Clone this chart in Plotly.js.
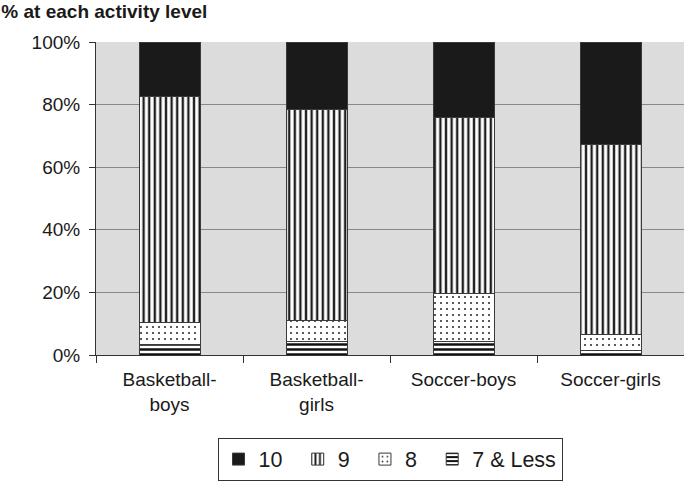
<!DOCTYPE html>
<html>
<head>
<meta charset="utf-8">
<script src="https://cdn.plot.ly/plotly-3.0.1.min.js"></script>
<style>html,body{margin:0;padding:0;background:#fff;}#chart{width:684px;height:483px;}</style>
</head>
<body>
<div id="chart"></div>
<script>
const categories = ["Basketball-<br>boys", "Basketball-<br>girls", "Soccer-boys", "Soccer-girls"];
const level7less = [3.4, 4.2, 4.2, 1.3];
const level8 = [6.9, 6.7, 15.5, 5.3];
const level9 = [72.4, 67.6, 56.2, 60.5];
const level10 = [17.3, 21.5, 24.1, 32.9];
const yTicks = [0, 20, 40, 60, 80, 100];
const yTickText = ["0%", "20%", "40%", "60%", "80%", "100%"];
const seriesNames = ["7 & Less", "8\u00a0\u2009", "9\u00a0\u2009", "10\u00a0\u2009"];

const FONT = "Liberation Sans, Arial, Helvetica, sans-serif";
const lineStyle = {color: "#3a3a3a", width: 1};

const traces = [
  {name: seriesNames[0], y: level7less,
   marker: {color: "#ffffff", line: lineStyle,
            pattern: {shape: "-", bgcolor: "#ffffff", fgcolor: "#111111", size: 5, solidity: 0.5, fillmode: "replace"}}},
  {name: seriesNames[1], y: level8,
   marker: {color: "#ffffff", line: lineStyle,
            pattern: {shape: ".", bgcolor: "#ffffff", fgcolor: "#333333", size: 6, solidity: 0.1, fillmode: "replace"}}},
  {name: seriesNames[2], y: level9,
   marker: {color: "#ffffff", line: lineStyle,
            pattern: {shape: "|", bgcolor: "#ffffff", fgcolor: "#1e1e1e", size: 5.6, solidity: 0.42, fillmode: "replace"}}},
  {name: seriesNames[3], y: level10,
   marker: {color: "#1a1a1a", line: lineStyle}}
].map(t => Object.assign({type: "bar", x: categories, hoverinfo: "skip"}, t));

const layout = {
  width: 684, height: 483,
  margin: {l: 96, r: 0, t: 42, b: 128, pad: 0},
  paper_bgcolor: "#ffffff",
  plot_bgcolor: "#dcdcdc",
  barmode: "stack",
  bargap: 0.585,
  font: {family: FONT, size: 19, color: "#1a1a1a"},
  title: {text: "<b>% at each activity level</b>", x: 0.002, xref: "container", xanchor: "left",
          y: 1 - 11/483, yref: "container", yanchor: "middle",
          font: {family: FONT, size: 19, color: "#1a1a1a"}},
  xaxis: {
    type: "category", showgrid: false, showline: true, linecolor: "#333333", linewidth: 1,
    ticks: "outside", tickson: "boundaries", ticklen: 7, tickcolor: "#333333", tickwidth: 1,
    tickfont: {family: FONT, size: 19, color: "#1a1a1a"}, ticklabelstandoff: 7
  },
  yaxis: {
    range: [0, 100], tickmode: "array", tickvals: yTicks, ticktext: yTickText,
    showgrid: true, gridcolor: "#888888", gridwidth: 1.3,
    showline: true, linecolor: "#333333", linewidth: 1, zeroline: false,
    ticks: "outside", ticklen: 6, tickcolor: "#333333", tickwidth: 1,
    tickfont: {family: FONT, size: 19, color: "#1a1a1a"}, ticklabelstandoff: 5
  },
  showlegend: true,
  legend: {
    orientation: "h", x: 0.5, xanchor: "center", y: -0.264, yanchor: "top",
    traceorder: "reversed", bgcolor: "#ffffff", bordercolor: "#333333", borderwidth: 1,
    font: {family: FONT, size: 21.5, color: "#1a1a1a"}, itemwidth: 30
  }
};

Plotly.newPlot("chart", traces, layout, {displayModeBar: false, staticPlot: true});
</script>
</body>
</html>
